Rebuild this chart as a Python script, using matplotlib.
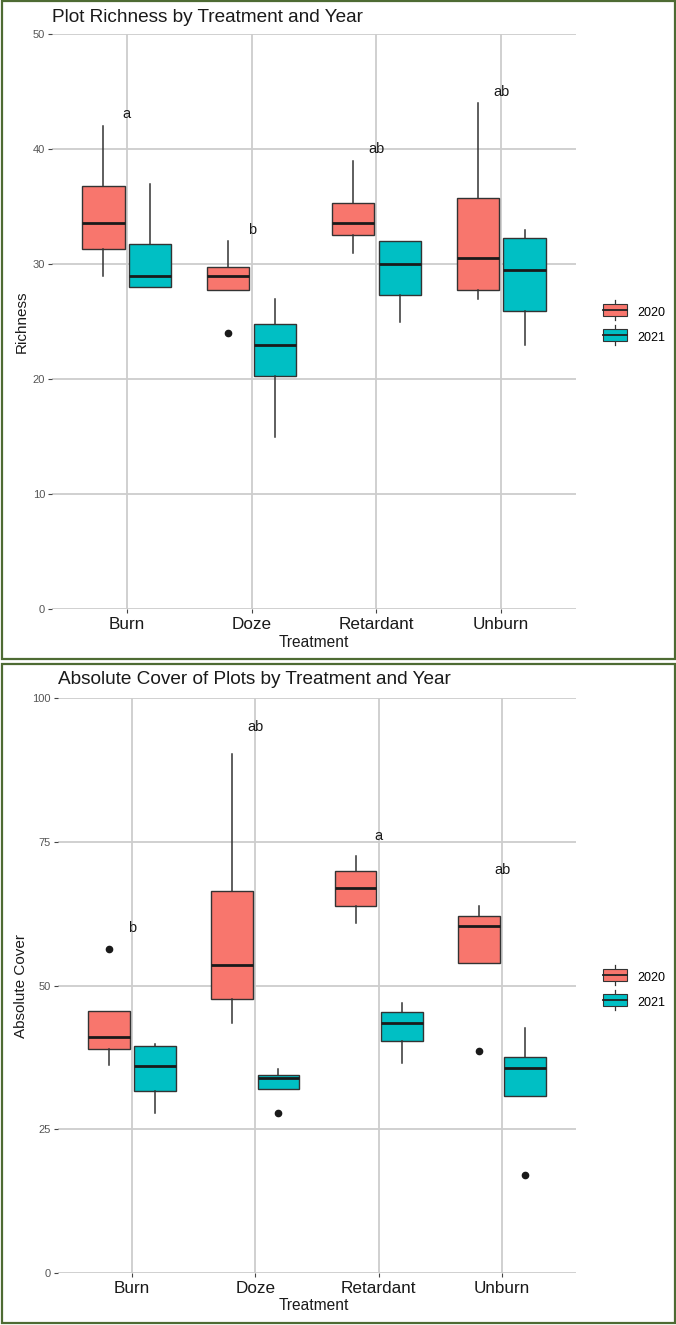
import matplotlib

matplotlib.use("Agg")
import matplotlib.pyplot as plt  # noqa: E402
from matplotlib.legend_handler import HandlerBase  # noqa: E402
from matplotlib.lines import Line2D  # noqa: E402
from matplotlib.patches import Patch, Rectangle  # noqa: E402

plt.rcParams["font.family"] = ["Liberation Sans", "DejaVu Sans"]

W, H = 676, 1325

treatments = ["Burn", "Doze", "Retardant", "Unburn"]
years = ["2020", "2021"]
year_colors = {"2020": "#F8766D", "2021": "#00BFC4"}

# box stats per treatment: (whislo, q1, med, q3, whishi)
rich_2020 = [(29.0, 31.3, 33.6, 36.8, 42.0), (27.7, 27.7, 29.0, 29.75, 32.0),
             (31.0, 32.5, 33.6, 35.3, 39.0), (27.0, 27.7, 30.5, 35.7, 44.0)]
rich_2021 = [(28.0, 28.0, 29.0, 31.7, 37.0), (15.0, 20.25, 23.0, 24.8, 27.0),
             (25.0, 27.3, 30.0, 32.0, 32.0), (23.0, 25.9, 29.5, 32.3, 33.0)]
rich_out_2020 = [[], [24.0], [], []]
rich_out_2021 = [[], [], [], []]
rich_letters = ["a", "b", "ab", "ab"]
rich_letter_y = [43, 33, 40, 45]

cover_2020 = [(36.2, 38.9, 41.0, 45.6, 45.6), (43.4, 47.6, 53.6, 66.4, 90.2),
              (60.9, 63.8, 66.9, 70.0, 72.6), (54.0, 54.0, 60.4, 62.1, 63.8)]
cover_2021 = [(27.9, 31.6, 36.0, 39.4, 39.8), (32.0, 32.0, 33.9, 34.5, 35.5),
              (36.6, 40.4, 43.4, 45.4, 47.0), (30.8, 30.8, 35.6, 37.6, 42.6)]
cover_out_2020 = [[56.4], [], [], [38.6]]
cover_out_2021 = [[], [27.9], [], [17.1]]
cover_letters = ["b", "ab", "a", "ab"]
cover_letter_y = [60, 95, 76, 70]


def fx(x):
    return x / W


def fy(y):
    return 1 - y / H


def axes_px(fig, left, top, right, bottom):
    return fig.add_axes([fx(left), fy(bottom), fx(right - left), (bottom - top) / H])


class BoxKey(HandlerBase):
    def create_artists(self, legend, orig, xd, yd, width, height, fontsize, trans):
        c = orig.get_facecolor()
        bh = height * 1.15
        y0 = yd + (height - bh) / 2
        box = Rectangle((xd, y0), width, bh, facecolor=c, edgecolor="#333333", lw=0.8, transform=trans)
        mid = yd + height / 2
        xm = xd + width / 2
        med = Line2D([xd, xd + width], [mid, mid], color="#222222", lw=1.3, transform=trans)
        w1 = Line2D([xm, xm], [y0 + bh, y0 + bh + 3], color="#333333", lw=0.9, transform=trans)
        w2 = Line2D([xm, xm], [y0 - 3, y0], color="#333333", lw=0.9, transform=trans)
        return [w1, w2, box, med]


def draw_panel(fig, ax, s2020, s2021, o2020, o2021, ymax, yticks, letters, letter_y,
               title, ylabel, title_xy, xlabel_y, legend_y):
    for yr, stats, outs, off in [("2020", s2020, o2020, -0.1875), ("2021", s2021, o2021, 0.1875)]:
        bstats = []
        for (lo, q1, med, q3, hi), fl in zip(stats, outs):
            bstats.append(dict(whislo=lo, q1=q1, med=med, q3=q3, whishi=hi, fliers=fl))
        pos = [i + 1 + off for i in range(len(treatments))]
        ax.bxp(bstats, positions=pos, widths=0.3375, patch_artist=True, showcaps=False,
               boxprops=dict(facecolor=year_colors[yr], edgecolor="#333333", lw=1.0),
               medianprops=dict(color="#1a1a1a", lw=2.0, solid_capstyle="butt"),
               whiskerprops=dict(color="#333333", lw=1.1),
               flierprops=dict(marker="o", markerfacecolor="#1a1a1a", markeredgecolor="#1a1a1a",
                               markersize=4.5),
               zorder=3)

    for i, (lab, ly) in enumerate(zip(letters, letter_y)):
        ax.text(i + 1, ly, lab, ha="center", va="center", fontsize=10.5, color="#1a1a1a", zorder=4)

    ax.set_xlim(0.4, 4.6)
    ax.set_ylim(0, ymax)
    ax.set_xticks(range(1, len(treatments) + 1))
    ax.set_xticklabels(treatments, fontsize=12.3, color="#1a1a1a")
    ax.set_yticks(yticks)
    ax.set_yticklabels([str(t) for t in yticks], fontsize=8, color="#555555")
    ax.tick_params(axis="both", length=3, width=0.8, color="#444444", pad=2)
    ax.tick_params(axis="x", pad=3)
    for sp in ax.spines.values():
        sp.set_visible(False)
    ax.grid(True, color="#cdcdcd", lw=1.3)
    ax.set_axisbelow(True)

    fig.text(fx(title_xy[0]), fy(title_xy[1]), title, fontsize=13.7, color="#1a1a1a",
             ha="left", va="center")
    ax.set_ylabel(ylabel, fontsize=11, color="#1a1a1a", labelpad=3)
    fig.text(fx(314), fy(xlabel_y), "Treatment", fontsize=11.2, color="#1a1a1a",
             ha="center", va="center")

    handles = [Patch(facecolor=year_colors[y]) for y in years]
    fig.legend(handles, years, loc="center left", bbox_to_anchor=(fx(592), fy(legend_y)),
               frameon=False, fontsize=9, handler_map={Patch: BoxKey()},
               handlelength=1.9, handleheight=0.85, handletextpad=0.8, labelspacing=1.0)


fig = plt.figure(figsize=(W / 100, H / 100), dpi=100)

ax1 = axes_px(fig, 52, 34, 576, 609)
draw_panel(fig, ax1, rich_2020, rich_2021, rich_out_2020, rich_out_2021, 50,
           [0, 10, 20, 30, 40, 50], rich_letters, rich_letter_y,
           "Plot Richness by Treatment and Year", "Richness", (52, 17), 642, 325)

ax2 = axes_px(fig, 58, 698, 576, 1273)
draw_panel(fig, ax2, cover_2020, cover_2021, cover_out_2020, cover_out_2021, 100,
           [0, 25, 50, 75, 100], cover_letters, cover_letter_y,
           "Absolute Cover of Plots by Treatment and Year", "Absolute Cover", (58, 680), 1306, 990)

# green frames round each panel
for top, bottom in [(1, 659), (664, 1323)]:
    fig.patches.append(Rectangle((fx(2), fy(bottom)), fx(673), (bottom - top) / H,
                                 transform=fig.transFigure, fill=False,
                                 edgecolor="#4e6b33", lw=1.6))

fig.savefig("out.png", dpi=100)
